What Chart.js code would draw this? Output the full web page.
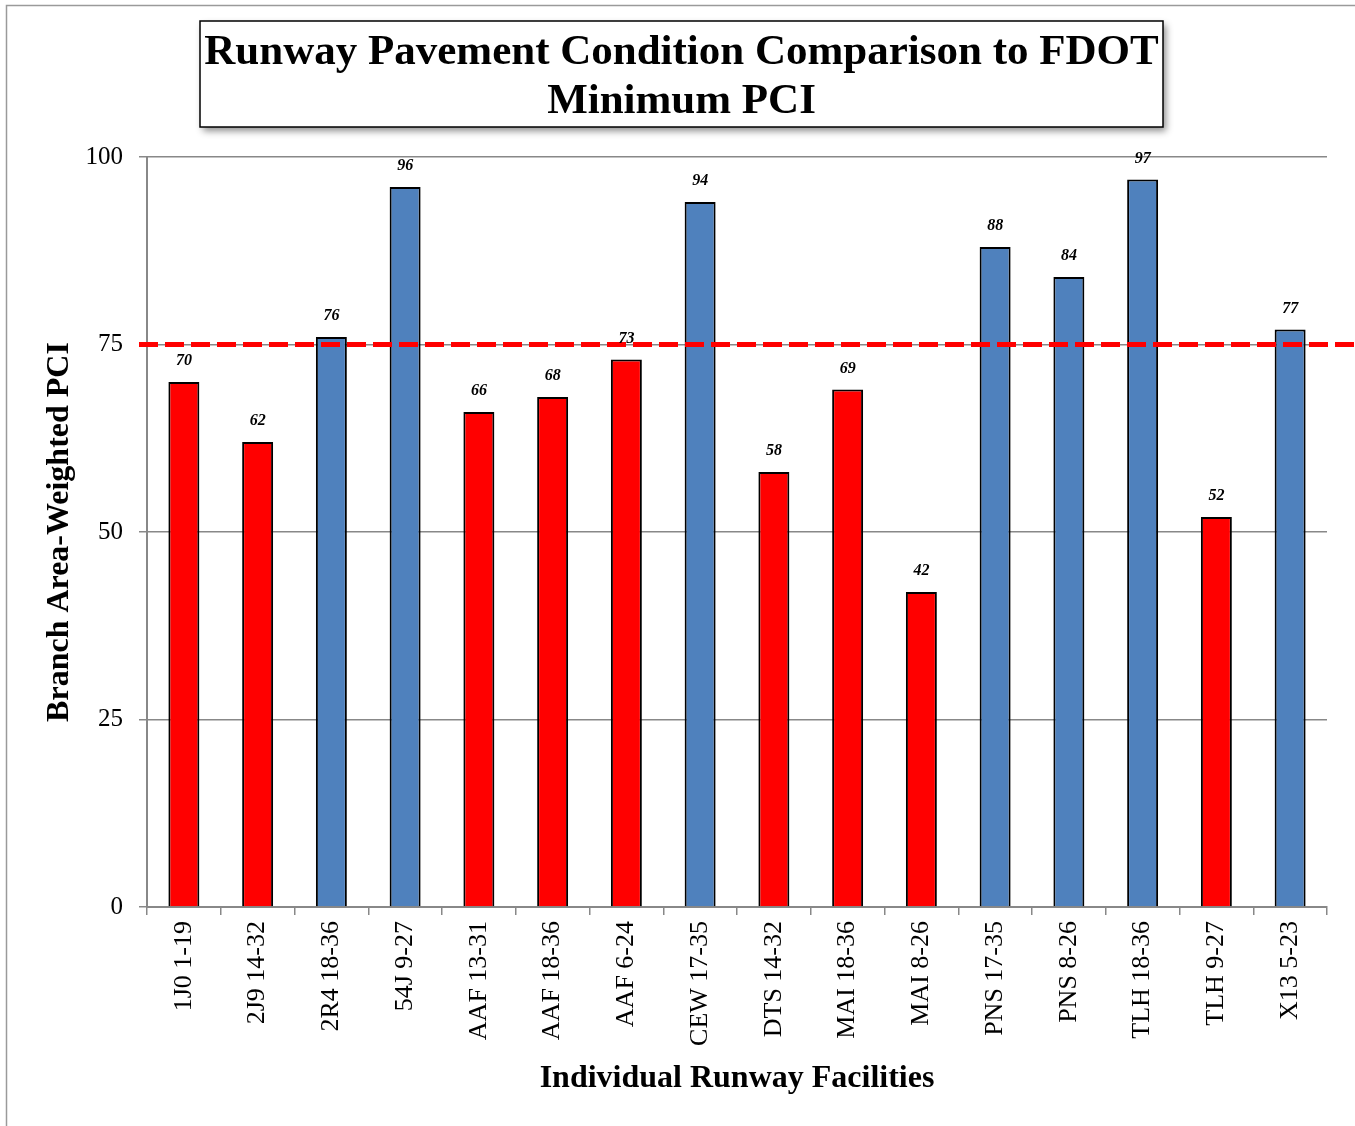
<!DOCTYPE html>
<html>
<head>
<meta charset="utf-8">
<title>Runway Pavement Condition Comparison to FDOT Minimum PCI</title>
<script src="https://cdn.jsdelivr.net/npm/chart.js@4.4.1/dist/chart.umd.min.js"></script>
<style>
  html, body { margin: 0; padding: 0; background: #fff; }
  canvas { display: block; }
</style>
</head>
<body>
<canvas id="pciChart" width="1355" height="1126"></canvas>
<script>
// Runway facilities and their branch area-weighted PCI
const RUNWAYS = [
  "1J0 1-19", "2J9 14-32", "2R4 18-36", "54J 9-27", "AAF 13-31", "AAF 18-36",
  "AAF 6-24", "CEW 17-35", "DTS 14-32", "MAI 18-36", "MAI 8-26", "PNS 17-35",
  "PNS 8-26", "TLH 18-36", "TLH 9-27", "X13 5-23"
];
const PCI_VALUES = [70, 62, 76, 96, 66, 68, 73, 94, 58, 69, 42, 88, 84, 97, 52, 77];
const FDOT_MIN_PCI = 75;
const Y_TICKS = [0, 25, 50, 75, 100];

const TITLE_LINES = ["Runway Pavement Condition Comparison to FDOT", "Minimum PCI"];
const SERIF = "'Liberation Serif', 'Times New Roman', serif";

const RED = "#FF0000";
const BLUE = "#4F81BD";
const GRID_GRAY = "#888888";

// bars at or above the FDOT minimum are blue, below are red
const barColors = PCI_VALUES.map(v => v >= FDOT_MIN_PCI ? BLUE : RED);

// outer frame + boxed title
const frameAndTitle = {
  id: "frameAndTitle",
  beforeDraw(chart) {
    const ctx = chart.ctx;
    ctx.save();
    ctx.fillStyle = "#fff";
    ctx.fillRect(0, 0, chart.width, chart.height);
    ctx.strokeStyle = "#9a9a9a";
    ctx.lineWidth = 1.5;
    ctx.strokeRect(6.5, 5.5, chart.width + 20, chart.height + 20);

    // title box with soft shadow
    const bx = 200, by = 21, bw = 963, bh = 106;
    ctx.shadowColor = "rgba(0,0,0,0.45)";
    ctx.shadowBlur = 7;
    ctx.shadowOffsetX = 3;
    ctx.shadowOffsetY = 4;
    ctx.fillStyle = "#fff";
    ctx.fillRect(bx, by, bw, bh);
    ctx.shadowColor = "transparent";
    ctx.strokeStyle = "#000";
    ctx.lineWidth = 1.5;
    ctx.strokeRect(bx, by, bw, bh);

    ctx.fillStyle = "#000";
    ctx.font = "bold 43px " + SERIF;
    ctx.textAlign = "center";
    ctx.textBaseline = "middle";
    ctx.fillText(TITLE_LINES[0], bx + bw / 2, 53);
    ctx.fillText(TITLE_LINES[1], bx + bw / 2, 102);
    ctx.restore();
  }
};

// dashed FDOT minimum line and value labels
const thresholdAndLabels = {
  id: "thresholdAndLabels",
  afterDatasetsDraw(chart) {
    const ctx = chart.ctx;
    const yScale = chart.scales.y;
    const y = yScale.getPixelForValue(FDOT_MIN_PCI);
    ctx.save();
    ctx.strokeStyle = RED;
    ctx.lineWidth = 5;
    ctx.setLineDash([19, 7]);
    ctx.beginPath();
    ctx.moveTo(chart.chartArea.left - 8, y);
    ctx.lineTo(chart.width, y);
    ctx.stroke();
    ctx.setLineDash([]);

    ctx.fillStyle = "#000";
    ctx.font = "italic bold 16px " + SERIF;
    ctx.textAlign = "center";
    ctx.textBaseline = "middle";
    const meta = chart.getDatasetMeta(0);
    meta.data.forEach((bar, i) => {
      ctx.fillText(String(PCI_VALUES[i]), bar.x, bar.y - 21);
    });
    ctx.restore();
  }
};

new Chart(document.getElementById("pciChart"), {
  type: "bar",
  data: {
    labels: RUNWAYS,
    datasets: [{
      label: "PCI",
      data: PCI_VALUES,
      backgroundColor: barColors,
      borderColor: "#000",
      borderWidth: 2,
      categoryPercentage: 1,
      barPercentage: 0.42
    }]
  },
  options: {
    responsive: false,
    animation: false,
    layout: { padding: { top: 157, right: 28, left: 0, bottom: 0 } },
    plugins: {
      legend: { display: false },
      tooltip: { enabled: false }
    },
    scales: {
      x: {
        afterFit: s => { s.height = 219; },
        grid: {
          offset: true,
          drawOnChartArea: false,
          drawTicks: true,
          tickLength: 8,
          color: GRID_GRAY,
          lineWidth: 1.5
        },
        border: { display: true, color: GRID_GRAY, width: 2 },
        ticks: {
          minRotation: 90,
          maxRotation: 90,
          autoSkip: false,
          padding: 6,
          color: "#000",
          font: { family: SERIF, size: 26 }
        },
        title: {
          display: true,
          text: "Individual Runway Facilities",
          color: "#000",
          font: { family: SERIF, size: 32, weight: "bold" },
          padding: { bottom: 28, top: 0 }
        }
      },
      y: {
        min: 0,
        max: 100,
        afterFit: s => { s.width = 147; },
        afterBuildTicks: s => { s.ticks = Y_TICKS.map(v => ({ value: v })); },
        grid: {
          color: GRID_GRAY,
          lineWidth: 1.5,
          drawTicks: true,
          tickLength: 8
        },
        border: { display: true, color: GRID_GRAY, width: 2 },
        ticks: {
          padding: 16,
          color: "#000",
          font: { family: SERIF, size: 25 }
        },
        title: {
          display: true,
          text: "Branch Area-Weighted PCI",
          color: "#000",
          font: { family: SERIF, size: 32, weight: "bold" },
          padding: { top: 41, bottom: 0 }
        }
      }
    }
  },
  plugins: [frameAndTitle, thresholdAndLabels]
});
</script>
</body>
</html>
